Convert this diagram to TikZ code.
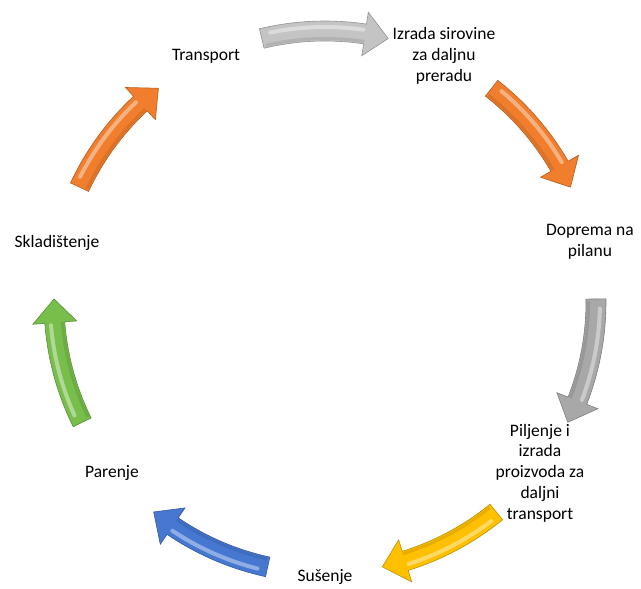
\documentclass[tikz,border=0pt]{standalone}
\usepackage{fontspec}
\setmainfont{Carlito}
\usepackage{tikz}

\definecolor{silverc}{RGB}{196,196,196}
\definecolor{orangec}{RGB}{240,126,44}
\definecolor{grayc}{RGB}{168,168,168}
\definecolor{goldc}{RGB}{255,192,0}
\definecolor{bluec}{RGB}{70,120,210}
\definecolor{greenc}{RGB}{120,190,75}

% curved block arrow, clockwise, centred on angle #1
\newcommand{\cycarrow}[2]{%
  \pgfmathsetmacro\ta{#1+13.5}%
  \pgfmathsetmacro\tb{#1-8.5}%
  \pgfmathsetmacro\tc{#1-13.5}%
  \fill [#2, draw=#2!75!black, line width=0.6pt]
    (\ta:281) arc[start angle=\ta, end angle=\tb, radius=281]
    -- (\tb:293) -- (\tc:271) -- (\tb:249) -- (\tb:261)
    arc[start angle=\tb, end angle=\ta, radius=261] -- cycle;
  \draw [white, opacity=0.4, line width=4pt, line cap=round]
    (\ta-2:275) arc[start angle=\ta-2, end angle=\tb+0.5, radius=275];
  \draw [#2!70!black, opacity=0.3, line width=3pt]
    (\ta-0.5:263.5) arc[start angle=\ta-0.5, end angle=\tb, radius=263.5];
}

\begin{document}
\begin{tikzpicture}[x=1pt,y=1pt]
\tikzstyle{every node}+=[inner sep=0pt]
\tikzstyle{lbl}=[align=center, font=\fontsize{17.5}{20.8}\selectfont]
\useasboundingbox (-325,-287) rectangle (316,302);

\cycarrow{90}{silverc}
\cycarrow{38.57}{orangec}
\cycarrow{-12.86}{grayc}
\cycarrow{-64.29}{goldc}
\cycarrow{-115.71}{bluec}
\cycarrow{-167.14}{greenc}
\cycarrow{141.43}{orangec}

\node [lbl] (transport) at (-119,246) {Transport};
\node [lbl] (izrada) at (119,246) {Izrada sirovine\\za daljnu\\preradu};
\node [lbl] (doprema) at (265,60) {Doprema na\\pilanu};
\node [lbl] (piljenje) at (215,-171) {Piljenje i\\izrada\\proizvoda za\\daljni\\transport};
\node [lbl] (susenje) at (0,-275) {Sušenje};
\node [lbl] (parenje) at (-213,-171) {Parenje};
\node [lbl] (skladistenje) at (-268,59) {Skladištenje};
\end{tikzpicture}
\end{document}
